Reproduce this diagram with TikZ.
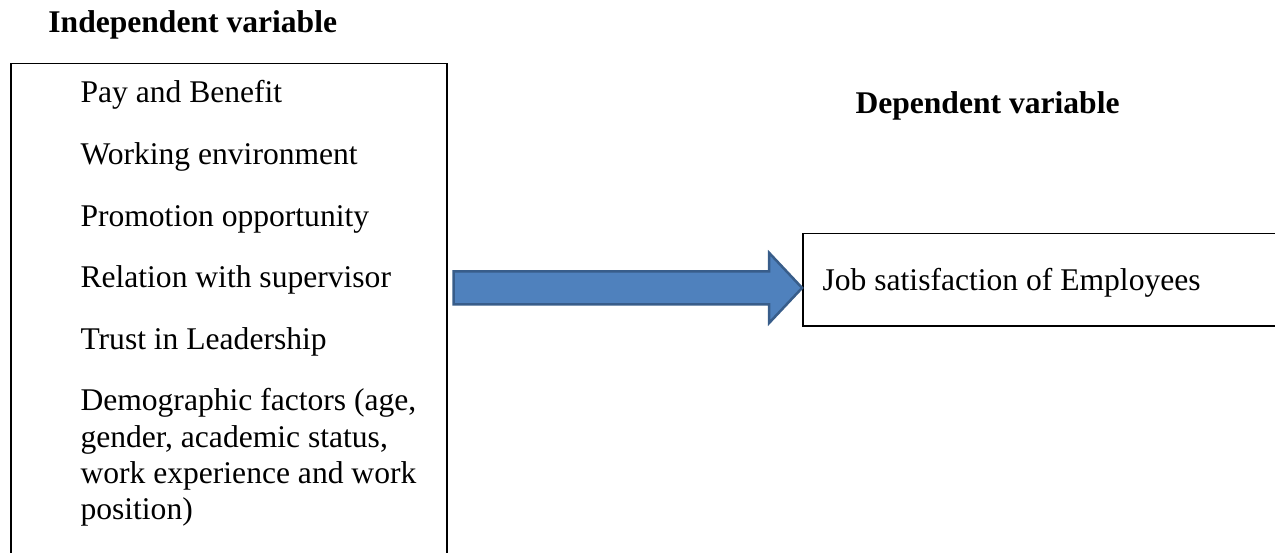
\documentclass[tikz,border=0pt]{standalone}
\usepackage{fontspec}
\setmainfont{Liberation Serif}
\usepackage{tikz}
\usetikzlibrary{calc,
                positioning}
\definecolor{arrowfill}{RGB}{79,129,189}
\definecolor{arrowline}{RGB}{56,93,138}
\tikzset{
        txt/.style={inner sep=0pt, anchor=base west, align=left,
                    font=\fontsize{12}{13.8}\selectfont},
        title/.style={txt, font=\fontsize{12}{13.8}\selectfont\bfseries},
        factor/.style={txt},
        varbox/.style={draw, rectangle, line width=0.6pt, inner sep=0pt,
                       anchor=north west},
        bigarrow/.style={draw=arrowline, fill=arrowfill, line width=0.95pt,
                         line join=miter},
}

\begin{document}
\begin{tikzpicture}
        \useasboundingbox (0,0) rectangle (484.5pt,-210.1pt);
        \clip (0,0) rectangle (484.5pt,-210.1pt);

        % independent side
        \node[title] (indep) at (18.2pt,-12.2pt) {Independent variable};
        \node[varbox, minimum width=165.7pt, minimum height=192pt]
             (leftbox) at (3.8pt,-23.9pt) {};
        \node[factor] (pay) at ([xshift=26.6pt, yshift=-15.2pt]leftbox.north west)
             {Pay and Benefit};
        \node[factor] (env) at ([yshift=-23.4pt]pay.base west)
             {Working environment};
        \node[factor] (promo) at ([yshift=-23.4pt]env.base west)
             {Promotion opportunity};
        \node[factor] (superv) at ([yshift=-23.4pt]promo.base west)
             {Relation with supervisor};
        \node[factor] (trust) at ([yshift=-23.4pt]superv.base west)
             {Trust in Leadership};
        % base of a multi-line node sits on its last line: 23.4pt + 3 x 13.8pt
        \node[factor] (demo) at ([yshift=-64.8pt]trust.base west)
             {Demographic factors (age,\\ gender, academic status,\\
              work experience and work\\ position)};

        % dependent side
        \node[title] (dep) at (324.9pt,-43.3pt) {Dependent variable};
        \node[varbox, minimum width=190pt, minimum height=35pt]
             (jobbox) at (304.8pt,-88.5pt) {};
        \node[txt] (job) at ([xshift=7.6pt, yshift=-21.7pt]jobbox.north west)
             {Job satisfaction of Employees};

        % block arrow between the boxes
        \coordinate (tip) at ([yshift=-3.1pt]jobbox.west);
        \coordinate (tail) at ([xshift=2.3pt]leftbox.east |- tip);
        \draw[bigarrow] ($(tail)+(0,6.25pt)$)
             -- ($(tip)+(-12.5pt,6.25pt)$)
             -- ($(tip)+(-12.5pt,13.3pt)$)
             -- (tip)
             -- ($(tip)+(-12.5pt,-13.3pt)$)
             -- ($(tip)+(-12.5pt,-6.25pt)$)
             -- ($(tail)+(0,-6.25pt)$) -- cycle;

\end{tikzpicture}
\end{document}
